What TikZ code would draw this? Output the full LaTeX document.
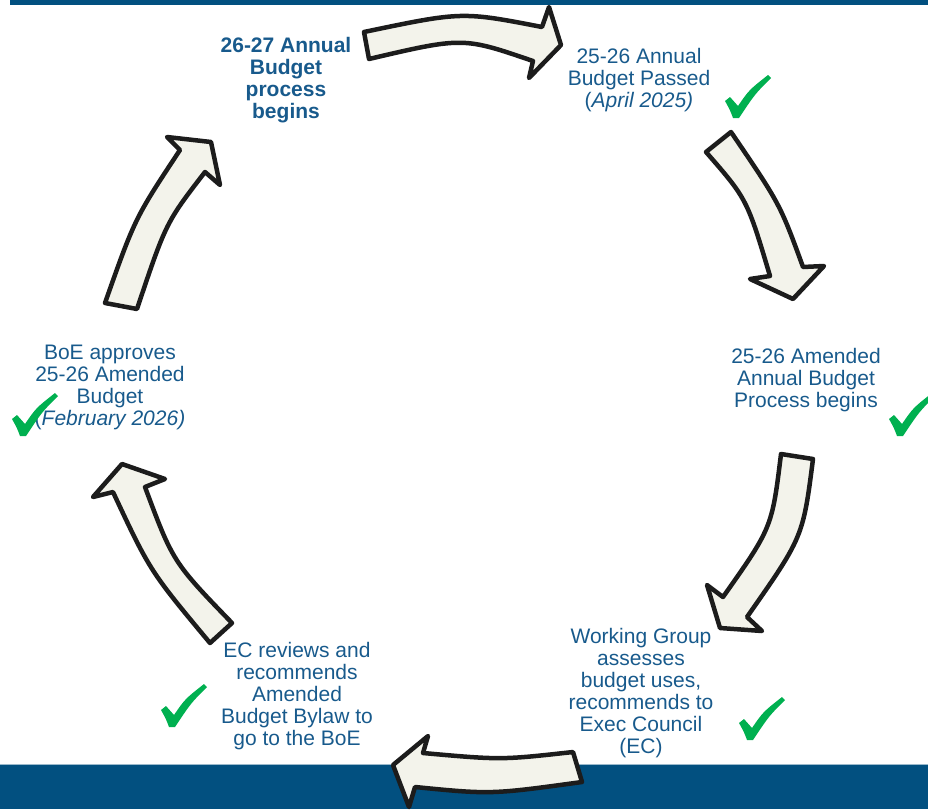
\documentclass[tikz,border=0pt]{standalone}
\usepackage{fontspec}
\setmainfont{Liberation Sans}
\usepackage{tikz}
\usetikzlibrary{positioning}

\definecolor{budgetblue}{RGB}{24,90,140}
\definecolor{bandblue}{RGB}{2,80,128}
\definecolor{arrowfill}{RGB}{243,243,235}
\definecolor{arrowline}{RGB}{28,28,28}
\definecolor{checkgreen}{RGB}{0,176,80}

\begin{document}
\begin{tikzpicture}[
    x=1pt, y=-1pt,
    stage/.style={align=center, text=budgetblue, inner sep=0pt, anchor=north,
                  font=\fontsize{21}{22}\selectfont},
    cyclearrow/.style={draw=arrowline, fill=arrowfill, line width=4.5pt, line join=round},
    donemark/.pic={
        \fill[checkgreen] (-10,-17) -- (-5,-21) .. controls (-1,-17) .. (3,-12)
            .. controls (14,-28) .. (33,-43) -- (36,-40) .. controls (20,-24) .. (4,0)
            -- (-2,0) .. controls (-5,-8) .. (-10,-17) -- cycle;
    }
]
\useasboundingbox (0,0) rectangle (928,809);

% top bar and bottom band
\fill[bandblue] (10,0) rectangle (928,4.5);
\fill[bandblue] (0,765) rectangle (928,809);
\draw[bandblue!40, line width=1.5pt] (0,764.5) -- (928,764.5);

% the six curved arrows of the cycle
\draw[cyclearrow] (364,32) .. controls (462,11.5) .. (542,27) -- (549,7) -- (561,45)
    -- (529,78) -- (533,61) .. controls (463,37) .. (369,59) -- cycle;
\draw[cyclearrow] (731,132) .. controls (780,204) .. (803,267) -- (824,266) -- (793,299)
    -- (750,279) -- (770,276) .. controls (747,199) .. (706,152) -- cycle;
\draw[cyclearrow] (813,459) .. controls (803,537) .. (747,617) -- (762,631) -- (720,628)
    -- (707,585) -- (723,597) .. controls (772,527.5) .. (781,454) -- cycle;
\draw[cyclearrow] (573,752) .. controls (501,760) .. (423,753) -- (428,736) -- (393,765)
    -- (409,807) -- (415,787) .. controls (491,794.5) .. (582,782) -- cycle;
\draw[cyclearrow] (232,623) .. controls (173,562) .. (145,487) -- (165,479) -- (122,464)
    -- (93,497) -- (113,492) .. controls (150,571) .. (210,643) -- cycle;
\draw[cyclearrow] (137,309) .. controls (166,222.5) .. (205,172) -- (220,185) -- (211,142)
    -- (167,137) -- (180,150) .. controls (135,218) .. (105,303) -- cycle;

% stages
\node[stage, font=\fontsize{21}{22}\selectfont\bfseries] (next) at (286,37)
    {26-27 Annual\\Budget\\process\\begins};
\node[stage] (passed) at (639,48) {25-26 Annual\\Budget Passed\\(\textit{April 2025)}};
\node[stage] (amend)  at (806,348) {25-26 Amended\\Annual Budget\\Process begins};
\node[stage] (wg)     at (641,628) {Working Group\\assesses\\budget uses,\\recommends to\\Exec Council\\(EC)};
\node[stage] (ec)     at (297,642) {EC reviews and\\recommends\\Amended\\Budget Bylaw to\\go to the BoE};
\node[stage] (boe)    at (110,345) {BoE approves\\25-26 Amended\\Budget\\(\textit{February 2026)}};

% done marks
\pic at (735,118) {donemark};
\pic at (899,436) {donemark};
\pic at (749,740) {donemark};
\pic at (171,727) {donemark};
\pic at (22,436)  {donemark};
\end{tikzpicture}
\end{document}
